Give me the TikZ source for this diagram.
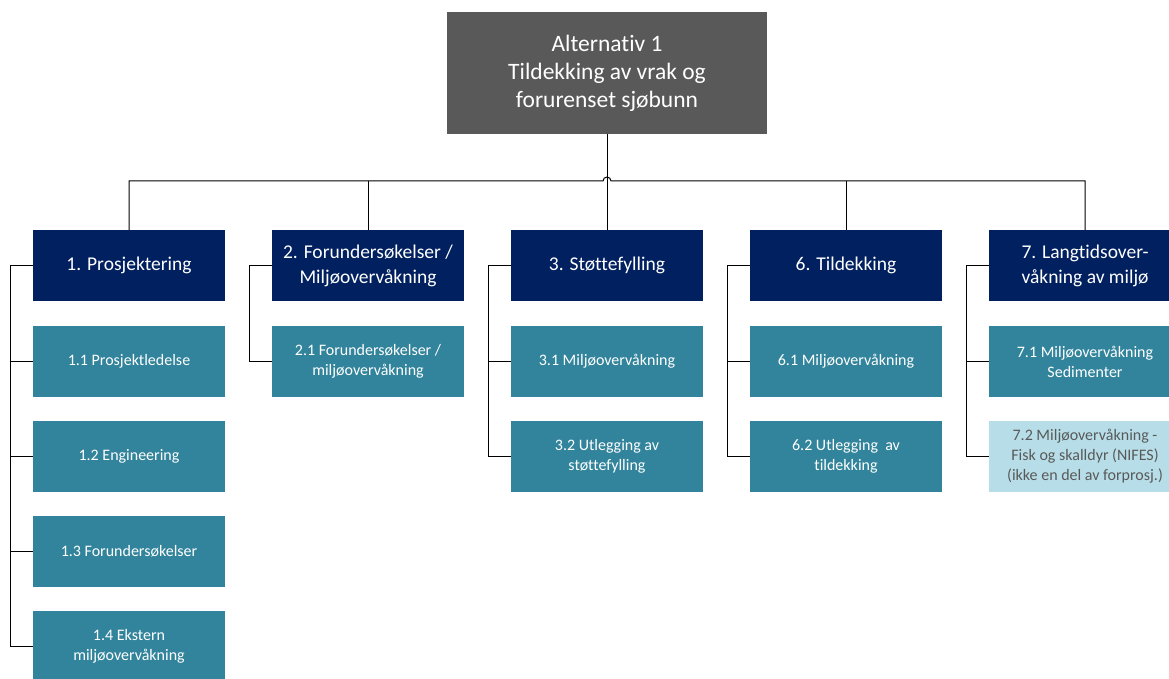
\documentclass[tikz,border=0pt]{standalone}
\usepackage{fontspec}
\setmainfont{Carlito}[Ligatures={NoCommon}]
\usetikzlibrary{positioning}
\definecolor{Navy}{HTML}{002060}
\definecolor{Teal}{HTML}{31849B}
\definecolor{PaleTeal}{HTML}{B7DEE8}
\definecolor{RootGray}{HTML}{595959}

\begin{document}
\begin{tikzpicture}[x=1pt, y=-1pt,
    rootbox/.style={fill=RootGray, text=white, minimum width=320pt, minimum height=122pt,
                    align=center, inner sep=0pt, outer sep=0pt, font=\fontsize{23.5}{28}\selectfont},
    phase/.style={fill=Navy, text=white, minimum width=192pt, minimum height=71pt,
                  align=center, inner sep=0pt, outer sep=0pt, font=\fontsize{19.5}{25}\selectfont},
    task/.style={fill=Teal, text=white, minimum width=192pt, minimum height=71pt,
                 align=center, inner sep=0pt, outer sep=0pt, font=\fontsize{16}{20}\selectfont},
    link/.style={draw=black, line width=1pt},
    node distance=24pt and 47pt
  ]
    \useasboundingbox (0,0) rectangle (1169,679);

    \node[rootbox] (root) at (607,73) {Alternativ 1\\Tildekking av vrak og\\forurenset sjøbunn};

    % hovedaktiviteter
    \node[phase] (p3) at (607,265.5) {3. Støttefylling};
    \node[phase, left=of p3] (p2) {2. Forundersøkelser /\\Miljøovervåkning};
    \node[phase, left=of p2] (p1) {1. Prosjektering};
    \node[phase, right=of p3] (p6) {6. Tildekking};
    \node[phase, right=of p6] (p7) {7. Langtidsover-\\våkning av miljø};

    % delaktiviteter
    \node[task, below=25pt of p1] (t11) {1.1 Prosjektledelse};
    \node[task, below=of t11] (t12) {1.2 Engineering};
    \node[task, below=of t12] (t13) {1.3 Forundersøkelser};
    \node[task, below=of t13] (t14) {1.4 Ekstern\\miljøovervåkning};
    \node[task, below=25pt of p2] (t21) {2.1 Forundersøkelser /\\miljøovervåkning};
    \node[task, below=25pt of p3] (t31) {3.1 Miljøovervåkning};
    \node[task, below=of t31] (t32) {3.2 Utlegging av\\støttefylling};
    \node[task, below=25pt of p6] (t61) {6.1 Miljøovervåkning};
    \node[task, below=of t61] (t62) {6.2 Utlegging~~av\\tildekking};
    \node[task, below=25pt of p7] (t71) {7.1 Miljøovervåkning\\Sedimenter};
    \node[task, below=of t71, fill=PaleTeal, text=RootGray] (t72) {7.2 Miljøovervåkning -\\Fisk og skalldyr (NIFES)\\(ikke en del av forprosj.)};

    % linjer fra toppen
    \coordinate (bus) at (607,181);
    \draw[link] (root.south) -- (p3.north);
    \draw[link] (p1.north) |- ([xshift=-4pt]bus) arc[start angle=180, end angle=0, radius=4pt] -| (p7.north);
    \draw[link] (p2.north) -- (p2.north |- bus);
    \draw[link] (p6.north) -- (p6.north |- bus);

    % klammer til venstre
    \draw[link] (p1.west) -- ++(-23,0) coordinate (k1) |- (t14.west);
    \foreach \t in {t11,t12,t13} \draw[link] (k1 |- \t.west) -- (\t.west);
    \draw[link] (p2.west) -- ++(-23,0) |- (t21.west);
    \draw[link] (p3.west) -- ++(-23,0) coordinate (k3) |- (t32.west);
    \draw[link] (k3 |- t31.west) -- (t31.west);
    \draw[link] (p6.west) -- ++(-23,0) coordinate (k6) |- (t62.west);
    \draw[link] (k6 |- t61.west) -- (t61.west);
    \draw[link] (p7.west) -- ++(-23,0) coordinate (k7) |- (t72.west);
    \draw[link] (k7 |- t71.west) -- (t71.west);
  \end{tikzpicture}
\end{document}
